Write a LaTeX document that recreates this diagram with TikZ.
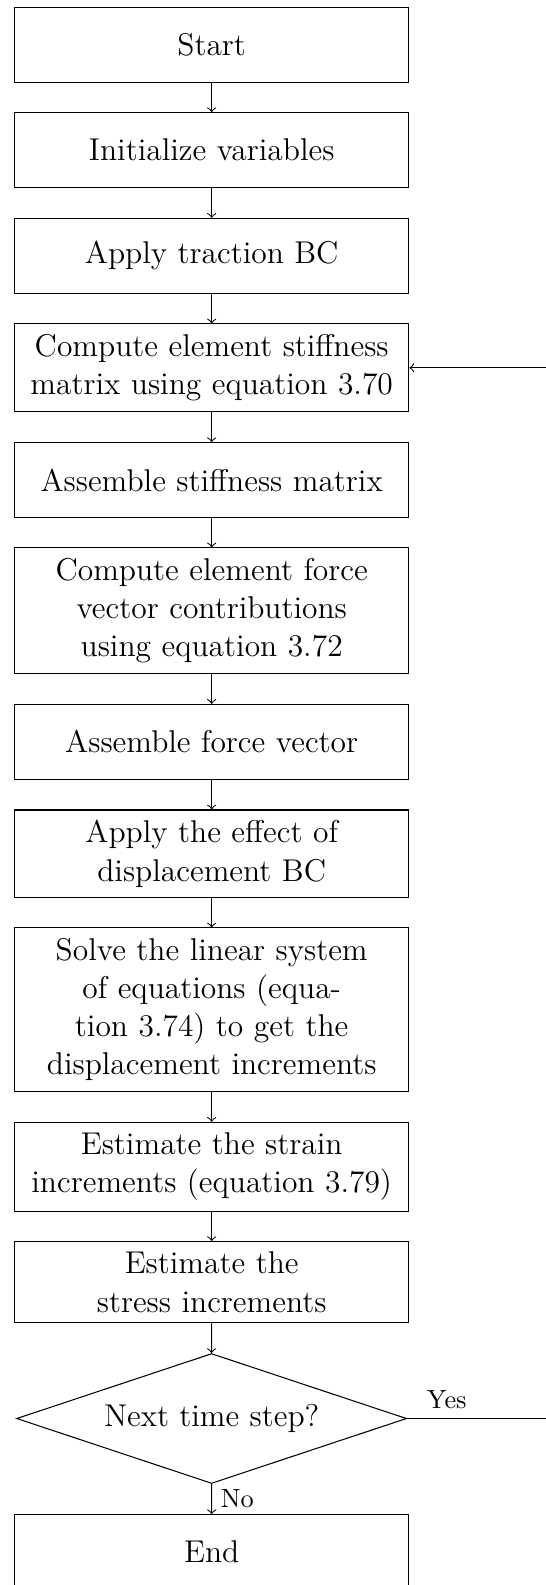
\documentclass[tikz,border=0pt]{standalone}
\usetikzlibrary{shapes.geometric}

\begin{document}
\begin{tikzpicture}[
  x=0.380952pt, y=-0.380952pt,
  box/.style={draw, rectangle, text width=5cm, align=center,
    minimum height=1cm, inner sep=4pt,
    font=\fontsize{12}{14.5}\selectfont},
  decision/.style={draw, diamond, aspect=3, inner sep=0pt,
    minimum width=148.6pt, minimum height=49.5pt,
    font=\fontsize{12}{14.5}\selectfont},
  flow/.style={->},
  lab/.style={font=\fontsize{10}{12}\selectfont, inner sep=3.33pt}]

% page frame
\useasboundingbox (0,0) rectangle (546,1585);
\clip (0,0) rectangle (546,1585);

% process steps
\node[box] (start)  at (211.7,44.7)   {Start};
\node[box] (init)   at (211.7,150)    {Initialize variables};
\node[box] (trac)   at (211.7,255.7)  {Apply traction BC};
\node[box] (kel)    at (211.7,367.8)  {Compute element stiffness\\matrix using equation 3.70};
\node[box] (kasm)   at (211.7,480)    {Assemble stiffness matrix};
\node[box] (fel)    at (211.7,610.8)  {Compute element force\\vector contributions\\using equation 3.72};
\node[box] (fasm)   at (211.7,741.7)  {Assemble force vector};
\node[box] (dbc)    at (211.7,853.8)  {Apply the effect of\\displacement BC};
\node[box] (solve)  at (211.7,1009.7) {Solve the linear system\\of equations (equa-\\tion 3.74) to get the\\displacement increments};
\node[box] (strain) at (211.7,1166.7) {Estimate the strain\\increments (equation 3.79)};
\node[box] (stress) at (211.7,1282.2) {Estimate the\\stress increments};
\node[decision] (next) at (211.6,1418.5) {Next time step?};
\node[box] (end)    at (211.7,1552)   {End};

% main flow
\draw[flow] (start.south)  -- (init.north);
\draw[flow] (init.south)   -- (trac.north);
\draw[flow] (trac.south)   -- (kel.north);
\draw[flow] (kel.south)    -- (kasm.north);
\draw[flow] (kasm.south)   -- (fel.north);
\draw[flow] (fel.south)    -- (fasm.north);
\draw[flow] (fasm.south)   -- (dbc.north);
\draw[flow] (dbc.south)    -- (solve.north);
\draw[flow] (solve.south)  -- (strain.north);
\draw[flow] (strain.south) -- (stress.north);
\draw[flow] (stress.south) -- (next.north);
\draw[flow] (next.south) -- node[lab, right] {No} (end.north);

% time-step loop back to the stiffness computation
\coordinate (back) at (580,367.8);
\draw[flow] (next.east) -- node[lab, above, pos=0.229] {Yes} (next.east -| back) |- (kel.east);
\end{tikzpicture}
\end{document}
